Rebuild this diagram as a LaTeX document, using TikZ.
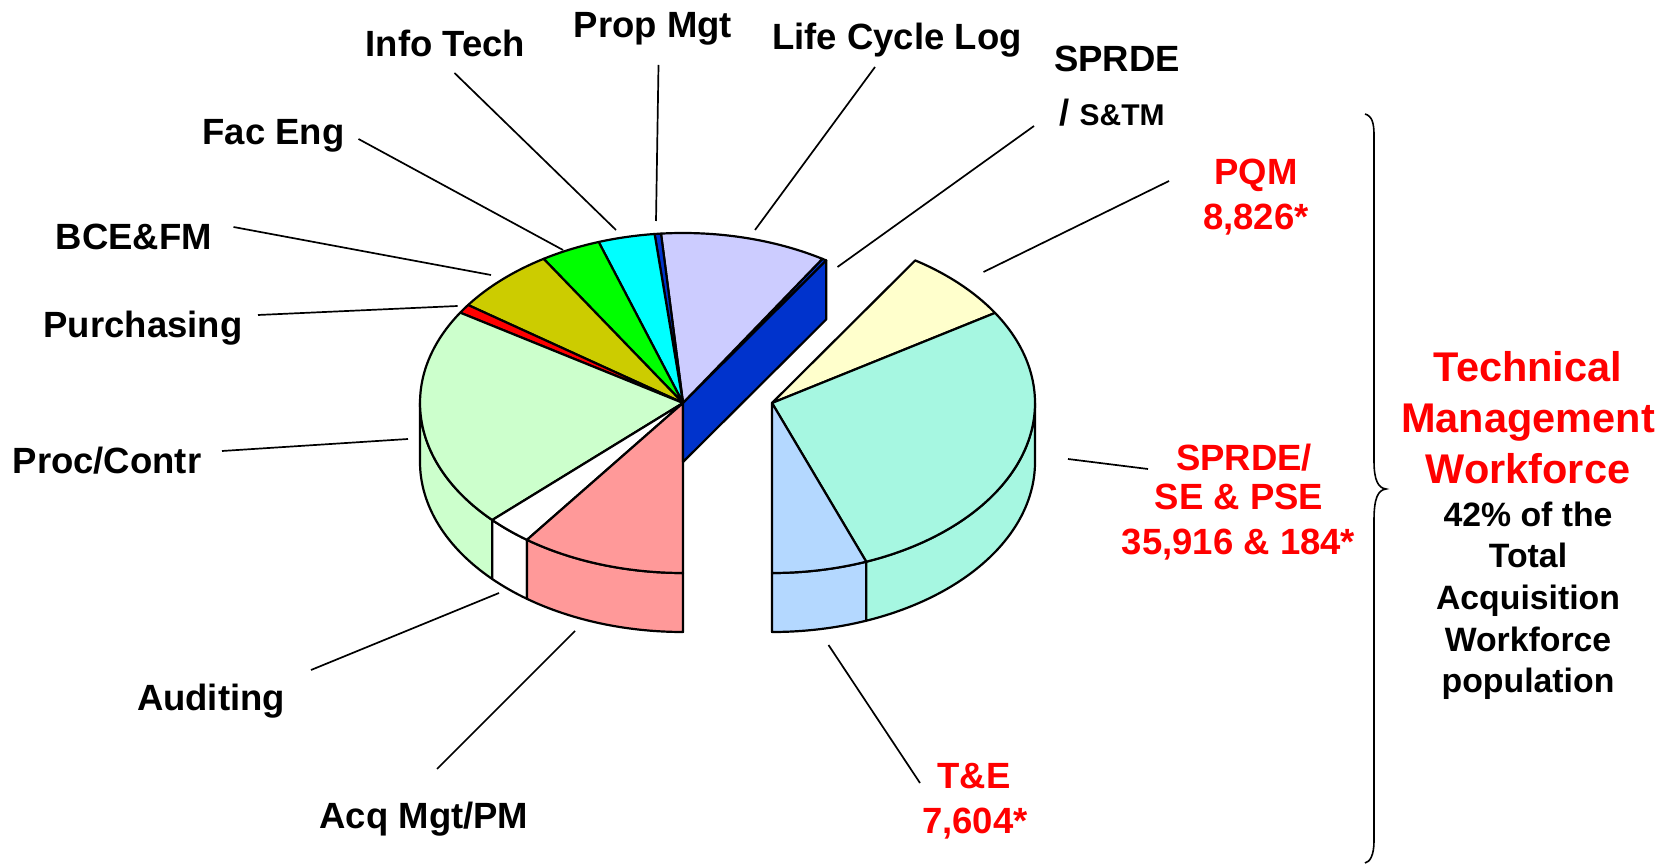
\documentclass[tikz,border=0pt]{standalone}
\usepackage{fontspec}
\setmainfont{Liberation Sans}
\usetikzlibrary{calc}
\definecolor{cSTM}{HTML}{0033CC}
\definecolor{cLCL}{HTML}{CCCCFF}
\definecolor{cProp}{HTML}{0033CC}
\definecolor{cInfo}{HTML}{00FFFF}
\definecolor{cFac}{HTML}{00FF00}
\definecolor{cBCE}{HTML}{CCCC00}
\definecolor{cPur}{HTML}{FF0000}
\definecolor{cProc}{HTML}{CCFFCC}
\definecolor{cAud}{HTML}{FFFFFF}
\definecolor{cAcq}{HTML}{FF9999}
\definecolor{cPQM}{HTML}{FFFFCC}
\definecolor{cSE}{HTML}{A6F7E1}
\definecolor{cTE}{HTML}{B4D8FF}
\definecolor{tred}{HTML}{FF0000}
\newcommand\topslice[3]{\filldraw[pie,fill=#3] (0,0) -- (#1:263pt and 170pt) arc[start angle=#1,end angle=#2,x radius=263pt,y radius=170pt] -- cycle;}
\newcommand\sideslice[3]{\filldraw[pie,fill=#3] (#1:263pt and 170pt) arc[start angle=#1,end angle=#2,x radius=263pt,y radius=170pt] -- ++(0,-59) arc[start angle=#2,end angle=#1,x radius=263pt,y radius=170pt] -- cycle;}
\begin{document}
\begin{tikzpicture}[x=1pt,y=1pt,
  pie/.style={draw=black,line width=2.2pt,line join=round},
  leader/.style={draw=black,line width=1.7pt},
  lab/.style={inner sep=0pt,anchor=base,font=\fontsize{36.5}{40}\selectfont\bfseries},
  rlab/.style={lab,text=tred},
  title/.style={inner sep=0pt,anchor=base,text=tred,font=\fontsize{41.5}{46}\selectfont\bfseries},
  sub/.style={inner sep=0pt,anchor=base,font=\fontsize{33.8}{38}\selectfont\bfseries}]
\useasboundingbox (0,0) rectangle (1664,865);
\fill[white] (0,0) rectangle (1664,865);

% ---------- left pie ----------
\begin{scope}[shift={(683,462)}]
  \sideslice{180}{223.5}{cProc}
  \sideslice{223.5}{233.6}{cAud}
  \sideslice{233.6}{270}{cAcq}
  \topslice{57}{58}{cSTM}
  \topslice{58}{94.8}{cLCL}
  \topslice{94.8}{96.2}{cProp}
  \topslice{96.2}{108.7}{cInfo}
  \topslice{108.7}{122}{cFac}
  \topslice{122}{144.8}{cBCE}
  \topslice{144.8}{147.9}{cPur}
  \topslice{147.9}{223.5}{cProc}
  \topslice{223.5}{233.6}{cAud}
  \topslice{233.6}{270}{cAcq}
  \filldraw[pie,fill=cSTM] (0,0) -- (57:263pt and 170pt) -- ++(0,-59) -- (0,-59) -- cycle;
\end{scope}

% ---------- right pie ----------
\begin{scope}[shift={(772,462)}]
  \sideslice{-90}{-69}{cTE}
  \sideslice{-69}{0}{cSE}
  \topslice{32}{57}{cPQM}
  \topslice{-69}{32}{cSE}
  \topslice{-90}{-69}{cTE}
\end{scope}

% ---------- labels ----------
\node[lab] (info) at (445.5,808) {Info Tech};
\node[lab] (prop) at (653,827) {Prop Mgt};
\node[lab] (lcl) at (897,815) {Life Cycle Log};
\node[lab] (stm1) at (1117,793) {SPRDE};
\node[lab] (stm2) at (1112,739) {/ {\fontsize{30}{34}\selectfont S\&TM}};
\node[lab] (fac) at (273.5,720) {Fac Eng};
\node[lab] (bce) at (134,615) {BCE\&FM};
\node[lab] (pur) at (143,527) {Purchasing};
\node[lab] (proc) at (107,391) {Proc/Contr};
\node[lab] (aud) at (211,155) {Auditing};
\node[lab] (acq) at (424,37) {Acq Mgt/PM};
\node[rlab] (pqm1) at (1256,680) {PQM};
\node[rlab] (pqm2) at (1256,635) {8,826*};
\node[rlab] (se1) at (1244,394) {SPRDE/};
\node[rlab] (se2) at (1239,355) {SE \& PSE};
\node[rlab] (se3) at (1238.5,310) {35,916 \& 184*};
\node[rlab] (te1) at (974,77) {T\&E};
\node[rlab] (te2) at (975,32) {7,604*};
\node[title] (t1) at (1528,483) {Technical};
\node[title] (t2) at (1528,432) {Management};
\node[title] (t3) at (1528,381.5) {Workforce};
\node[sub] (s1) at (1528,338) {42\% of the};
\node[sub] (s2) at (1528,297) {Total};
\node[sub] (s3) at (1528,255) {Acquisition};
\node[sub] (s4) at (1528,214) {Workforce};
\node[sub] (s5) at (1528,173) {population};

% ---------- leader lines ----------
\coordinate (infoA) at (454.5,792); \coordinate (infoB) at (616,635);
\coordinate (propA) at (658.5,800); \coordinate (propB) at (656,644);
\coordinate (facA) at (358.5,726);  \coordinate (facB) at (563,615);
\coordinate (bceA) at (233.5,638);  \coordinate (bceB) at (491,590);
\coordinate (purA) at (258,550);    \coordinate (purB) at (457.6,559);
\coordinate (lclA) at (875,798);    \coordinate (lclB) at (755,635);
\coordinate (stmA) at (1034,739);   \coordinate (stmB) at (837.5,598);
\coordinate (pqmA) at (1169,684);   \coordinate (pqmB) at (983.5,593);
\coordinate (seA) at (1148,396);    \coordinate (seB) at (1068,406);
\coordinate (teA) at (920,82);      \coordinate (teB) at (828.5,220);
\coordinate (acqA) at (437,96);     \coordinate (acqB) at (575,234);
\coordinate (audA) at (311,195);    \coordinate (audB) at (499,272);
\coordinate (procA) at (222,414);   \coordinate (procB) at (408,426);
\foreach \p in {info,prop,fac,bce,pur,lcl,stm,pqm,se,te,acq,aud,proc}
  \draw[leader] (\p A) -- (\p B);

% ---------- brace ----------
\coordinate (brTop) at (1365,751);
\coordinate (brTip) at (1386,376);
\coordinate (brBot) at (1365,2);
\draw[line width=1.6pt] (brTop) .. controls (1372,749) and (1374,742) .. (1374,730)
  -- (1374,404) .. controls (1374,385) and (1378,377) .. (brTip)
  .. controls (1378,375) and (1374,367) .. (1374,345)
  -- (1374,24) .. controls (1374,10) and (1370,3) .. (brBot);
\end{tikzpicture}
\end{document}
